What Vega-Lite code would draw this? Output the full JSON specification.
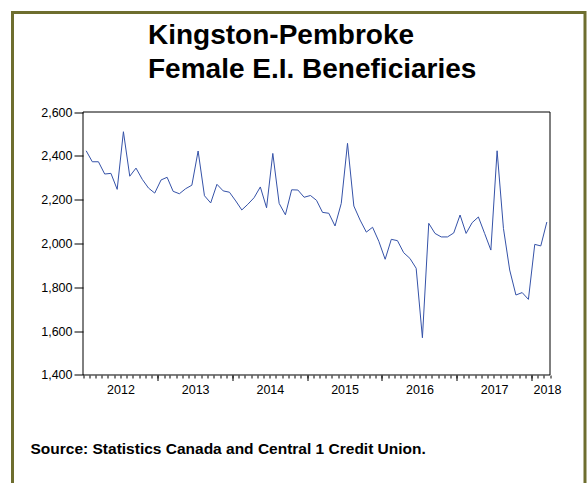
{
  "$schema": "https://vega.github.io/schema/vega-lite/v6.json",
  "width": 572.5,
  "height": 470.5,
  "autosize": {"type": "none"},
  "padding": {"left": 12.5, "top": 12.5, "right": 2, "bottom": 0},
  "background": "white",
  "config": {
    "view": {"stroke": null},
    "font": "Liberation Sans",
    "axis": {"grid": false, "domain": false, "tickColor": "black", "labelColor": "black", "labelFont": "Liberation Sans", "labelFontSize": 12.5, "tickWidth": 1}
  },
  "title": {
    "text": ["Kingston-Pembroke", "Female E.I. Beneficiaries"],
    "anchor": "start",
    "frame": "group",
    "orient": "top",
    "baseline": "alphabetic",
    "offset": 0,
    "dx": 135.5,
    "dy": 95,
    "lineHeight": 34.5,
    "fontSize": 28,
    "fontWeight": "bold",
    "font": "Liberation Sans",
    "color": "black"
  },
  "resolve": {"axis": {"x": "independent", "y": "independent"}},
  "layer": [
    {
      "data": {"values": [{}]},
      "mark": {"type": "rect", "fill": "transparent", "stroke": "#6e6e2f", "strokeWidth": 3},
      "encoding": {
        "x": {
          "datum": {"year": 2011, "month": 1, "date": 21, "hours": 12, "utc": true},
          "type": "temporal",
          "scale": {"type": "utc", "domain": [{"year": 2011, "month": 1, "date": 21, "hours": 12, "utc": true}, {"year": 2018, "month": 9, "date": 19, "utc": true}], "nice": false},
          "axis": {
            "orient": "bottom",
            "offset": -108,
            "values": {"expr": "utcSequence('month', utc(2012,0,1), utc(2018,3,2))"},
            "tickSize": 3,
            "labels": false,
            "domain": false,
            "title": "Source: Statistics Canada and Central 1 Credit Union.",
            "titleFont": "Liberation Sans",
            "titleFontSize": 15.5,
            "titleFontWeight": "bold",
            "titleColor": "black",
            "titleAlign": "left",
            "titleAnchor": "start",
            "titleBaseline": "alphabetic",
            "titleX": 17.5,
            "titleY": 78
          }
        },
        "x2": {"datum": {"year": 2018, "month": 9, "date": 19, "utc": true}},
        "y": {
          "datum": 3054,
          "type": "quantitative",
          "scale": {"domain": [907.2, 3054], "nice": false, "zero": false},
          "axis": {
            "orient": "left",
            "offset": -70.5,
            "values": [1400, 1600, 1800, 2000, 2200, 2400, 2600],
            "format": ",.0f",
            "tickSize": 9,
            "labelPadding": 2,
            "domain": false,
            "title": null
          }
        },
        "y2": {"datum": 0}
      }
    },
    {
      "data": {"values": [{}]},
      "mark": {"type": "rect", "fill": "transparent", "stroke": "black", "strokeWidth": 1},
      "encoding": {
        "x": {
          "datum": {"year": 2012, "month": 1, "date": 1, "utc": true},
          "type": "temporal",
          "scale": {"type": "utc", "domain": [{"year": 2011, "month": 1, "date": 21, "hours": 12, "utc": true}, {"year": 2018, "month": 9, "date": 19, "utc": true}], "nice": false},
          "axis": {
            "orient": "bottom",
            "offset": -108,
            "values": {"expr": "utcSequence('year', utc(2013,0,1), utc(2018,0,2))"},
            "tickSize": 5.5,
            "labels": false,
            "domain": false,
            "title": null
          }
        },
        "x2": {"datum": {"year": 2018, "month": 4, "date": 1, "utc": true}},
        "y": {
          "datum": 1400,
          "type": "quantitative",
          "scale": {"domain": [907.2, 3054], "nice": false, "zero": false},
          "axis": null
        },
        "y2": {"datum": 2600}
      }
    },
    {
      "data": {
        "values": [
          {"date": "2012-01", "value": 2423}, {"date": "2012-02", "value": 2373}, {"date": "2012-03", "value": 2373},
          {"date": "2012-04", "value": 2317}, {"date": "2012-05", "value": 2320}, {"date": "2012-06", "value": 2247},
          {"date": "2012-07", "value": 2510}, {"date": "2012-08", "value": 2307}, {"date": "2012-09", "value": 2344},
          {"date": "2012-10", "value": 2293}, {"date": "2012-11", "value": 2253}, {"date": "2012-12", "value": 2230},
          {"date": "2013-01", "value": 2290}, {"date": "2013-02", "value": 2302}, {"date": "2013-03", "value": 2238},
          {"date": "2013-04", "value": 2227}, {"date": "2013-05", "value": 2250}, {"date": "2013-06", "value": 2266},
          {"date": "2013-07", "value": 2422}, {"date": "2013-08", "value": 2218}, {"date": "2013-09", "value": 2185},
          {"date": "2013-10", "value": 2270}, {"date": "2013-11", "value": 2240}, {"date": "2013-12", "value": 2234},
          {"date": "2014-01", "value": 2194}, {"date": "2014-02", "value": 2153}, {"date": "2014-03", "value": 2179},
          {"date": "2014-04", "value": 2209}, {"date": "2014-05", "value": 2258}, {"date": "2014-06", "value": 2163},
          {"date": "2014-07", "value": 2411}, {"date": "2014-08", "value": 2183}, {"date": "2014-09", "value": 2131},
          {"date": "2014-10", "value": 2245}, {"date": "2014-11", "value": 2244}, {"date": "2014-12", "value": 2211},
          {"date": "2015-01", "value": 2219}, {"date": "2015-02", "value": 2197}, {"date": "2015-03", "value": 2142},
          {"date": "2015-04", "value": 2138}, {"date": "2015-05", "value": 2080}, {"date": "2015-06", "value": 2183},
          {"date": "2015-07", "value": 2457}, {"date": "2015-08", "value": 2171}, {"date": "2015-09", "value": 2107},
          {"date": "2015-10", "value": 2052}, {"date": "2015-11", "value": 2074}, {"date": "2015-12", "value": 2010},
          {"date": "2016-01", "value": 1928}, {"date": "2016-02", "value": 2019}, {"date": "2016-03", "value": 2013},
          {"date": "2016-04", "value": 1958}, {"date": "2016-05", "value": 1932}, {"date": "2016-06", "value": 1887},
          {"date": "2016-07", "value": 1570}, {"date": "2016-08", "value": 2092}, {"date": "2016-09", "value": 2046},
          {"date": "2016-10", "value": 2030}, {"date": "2016-11", "value": 2030}, {"date": "2016-12", "value": 2048},
          {"date": "2017-01", "value": 2130}, {"date": "2017-02", "value": 2046}, {"date": "2017-03", "value": 2095},
          {"date": "2017-04", "value": 2121}, {"date": "2017-05", "value": 2046}, {"date": "2017-06", "value": 1970},
          {"date": "2017-07", "value": 2423}, {"date": "2017-08", "value": 2069}, {"date": "2017-09", "value": 1879},
          {"date": "2017-10", "value": 1765}, {"date": "2017-11", "value": 1776}, {"date": "2017-12", "value": 1745},
          {"date": "2018-01", "value": 1996}, {"date": "2018-02", "value": 1989}, {"date": "2018-03", "value": 2098}
        ]
      },
      "mark": {"type": "line", "color": "#3552a8", "strokeWidth": 1},
      "encoding": {
        "x": {
          "field": "date",
          "type": "temporal",
          "timeUnit": "utcyearmonth",
          "bandPosition": 0.5,
          "scale": {"type": "utc", "domain": [{"year": 2011, "month": 1, "date": 21, "hours": 12, "utc": true}, {"year": 2018, "month": 9, "date": 19, "utc": true}], "nice": false},
          "axis": {
            "orient": "bottom",
            "offset": -108,
            "values": [
              {"year": 2012, "month": 7, "date": 2, "utc": true},
              {"year": 2013, "month": 7, "date": 2, "utc": true},
              {"year": 2014, "month": 7, "date": 2, "utc": true},
              {"year": 2015, "month": 7, "date": 2, "utc": true},
              {"year": 2016, "month": 7, "date": 2, "utc": true},
              {"year": 2017, "month": 7, "date": 2, "utc": true},
              {"year": 2018, "month": 3, "date": 17, "utc": true}
            ],
            "format": "%Y",
            "ticks": false,
            "tickSize": 0,
            "labelPadding": 8,
            "domain": false,
            "title": null
          }
        },
        "y": {
          "field": "value",
          "type": "quantitative",
          "scale": {"domain": [907.2, 3054], "nice": false, "zero": false},
          "axis": null
        }
      }
    }
  ]
}
